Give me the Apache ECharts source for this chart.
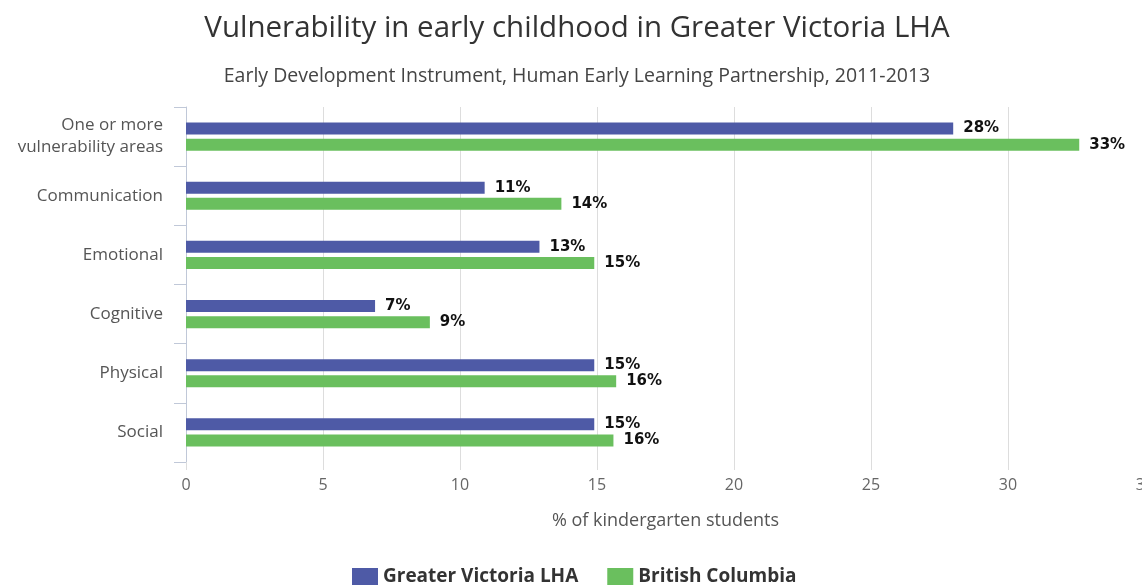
<!DOCTYPE html>
<html>
<head>
<meta charset="utf-8">
<title>Vulnerability in early childhood</title>
<script src="https://cdn.jsdelivr.net/npm/echarts@6/dist/echarts.min.js"></script>
<style>
  html, body { margin: 0; padding: 0; background: #fff; }
  #chart { width: 1142px; height: 587px; }
</style>
</head>
<body>
<div id="chart"></div>
<script>
// categories, top to bottom
const categories = [
  "One or more\nvulnerability areas",
  "Communication",
  "Emotional",
  "Cognitive",
  "Physical",
  "Social"
];
// % of kindergarten students
const victoriaValues = [28.0, 10.9, 12.9, 6.9, 14.9, 14.9];
const bcValues = [32.6, 13.7, 14.9, 8.9, 15.7, 15.6];
const xTicks = [0, 5, 10, 15, 20, 25, 30, 35];

const font = "'Open Sans', 'Liberation Sans', sans-serif";

let myChart = echarts.init(document.getElementById("chart"));

const labelStyle = {
  show: true,
  position: "right",
  distance: 10,
  fontFamily: "'DejaVu Sans', sans-serif",
  fontWeight: "bold",
  fontSize: 15,
  color: "#111",
  formatter: p => Math.round(p.value) + "%"
};

const option = {
  animation: false,
  title: [
    {
      text: "Vulnerability in early childhood in Greater Victoria LHA",
      left: 572,
      textAlign: "center",
      top: 9,
      textStyle: { fontFamily: font, fontWeight: "normal", fontSize: 29.5, color: "#333" }
    },
    {
      text: "Early Development Instrument, Human Early Learning Partnership, 2011-2013",
      left: 572,
      textAlign: "center",
      top: 61,
      textStyle: { fontFamily: font, fontWeight: "normal", fontSize: 19.5, color: "#444" }
    }
  ],
  legend: {
    top: 567,
    left: 352,
    itemWidth: 26,
    itemHeight: 17,
    itemGap: 29,
    icon: "rect",
    padding: 0,
    textStyle: { fontFamily: font, fontWeight: "bold", fontSize: 19, color: "#333" },
    data: ["Greater Victoria LHA", "British Columbia"]
  },
  grid: {
    left: 186,
    right: -3,
    top: 107,
    bottom: 125,
    outerBoundsMode: "none"
  },
  xAxis: {
    type: "value",
    min: 0,
    max: 35,
    interval: 5,
    name: "% of kindergarten students",
    nameLocation: "middle",
    nameGap: 50,
    nameTextStyle: { fontFamily: font, fontSize: 18, color: "#555" },
    axisLine: { show: false },
    axisTick: { show: true, length: 8, lineStyle: { color: "#ddd" } },
    axisLabel: {
      fontFamily: font,
      fontSize: 16,
      color: "#666",
      margin: 15,
      formatter: v => (xTicks.indexOf(v) >= 0 ? String(v) : "")
    },
    splitLine: { show: true, lineStyle: { color: "#ddd" } }
  },
  yAxis: {
    type: "category",
    inverse: true,
    data: categories,
    axisLine: { show: true, lineStyle: { color: "#c0c8d8" } },
    axisTick: { show: true, length: 12, lineStyle: { color: "#c0c8d8" } },
    axisLabel: {
      fontFamily: font,
      fontSize: 17,
      color: "#555",
      margin: 23,
      lineHeight: 22
    }
  },
  series: [
    {
      name: "Greater Victoria LHA",
      type: "bar",
      data: victoriaValues,
      barWidth: 12,
      barGap: "35%",
      itemStyle: { color: "#4e5aa6" },
      label: labelStyle
    },
    {
      name: "British Columbia",
      type: "bar",
      data: bcValues,
      barWidth: 12,
      barGap: "35%",
      itemStyle: { color: "#6abf5e" },
      label: labelStyle
    }
  ]
};
myChart.setOption(option);
</script>
</body>
</html>
